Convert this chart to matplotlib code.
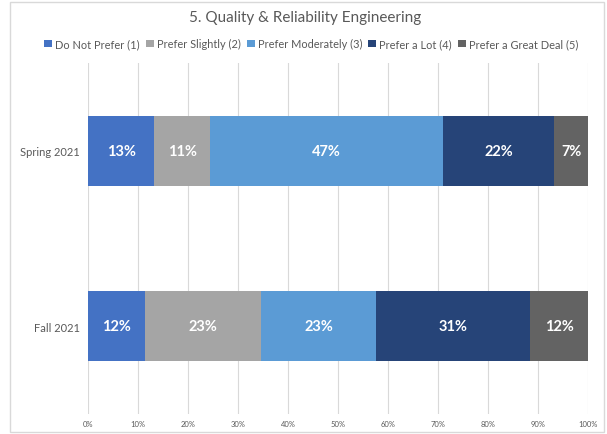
import matplotlib.pyplot as plt
from matplotlib.patches import Rectangle
import numpy as np

plt.rcParams['font.family'] = ['Lato', 'DejaVu Sans']

categories = ['Fall 2021', 'Spring 2021']
series_names = ['Do Not Prefer (1)', 'Prefer Slightly (2)', 'Prefer Moderately (3)',
                'Prefer a Lot (4)', 'Prefer a Great Deal (5)']
# percent of respondents, bottom row first (Fall), then Spring
values = [
    [11.5, 13.3],
    [23.1, 11.1],
    [23.1, 46.7],
    [30.8, 22.2],
    [11.5, 6.7],
]
colors = ['#4472C4', '#A5A5A5', '#5B9BD5', '#264478', '#636363']
xticks = np.arange(0, 101, 10)

fig = plt.figure(figsize=(6.07, 4.35), dpi=100)
ax = fig.add_axes([0.145, 0.047, 0.8235, 0.805])

y = np.arange(len(categories))
left = np.zeros(len(categories))
for name, vals, c in zip(series_names, values, colors):
    vals = np.array(vals)
    ax.barh(y, vals, left=left, height=0.4, color=c, label=name, zorder=3)
    for yy, l, v in zip(y, left, vals):
        ax.text(l + v / 2, yy, f'{round(v):.0f}%', ha='center', va='center',
                color='white', fontsize=10.5, fontweight='bold', zorder=4)
    left += vals

ax.set_xlim(0, 100)
ax.set_ylim(-0.5, 1.5)
ax.set_yticks(y)
ax.set_yticklabels(categories, fontsize=8, color='#595959')
ax.set_xticks(xticks)
ax.set_xticklabels([f'{t}%' for t in xticks], fontsize=5.5, color='#595959')
ax.tick_params(length=0, axis='both')
ax.tick_params(axis='x', pad=5)
ax.tick_params(axis='y', pad=6)
ax.grid(axis='x', color='#d9d9d9', linewidth=0.8, zorder=0)
for s in ax.spines.values():
    s.set_visible(False)

fig.text(0.502, 0.958, '5. Quality & Reliability Engineering', ha='center', va='center',
         fontsize=11, color='#595959')

handles, labels = ax.get_legend_handles_labels()
fig.legend(handles, labels, loc='center', bbox_to_anchor=(0.513, 0.897), ncol=5,
           frameon=False, fontsize=7.9, handlelength=0.7, handleheight=0.7,
           handletextpad=0.3, columnspacing=0.55, labelcolor='#595959')

fig.patches.append(Rectangle((10 / 607, 2 / 435), 594 / 607, 430 / 435,
                             transform=fig.transFigure, fill=False,
                             edgecolor='#d9d9d9', linewidth=1))

fig.savefig('out.png', dpi=100)
